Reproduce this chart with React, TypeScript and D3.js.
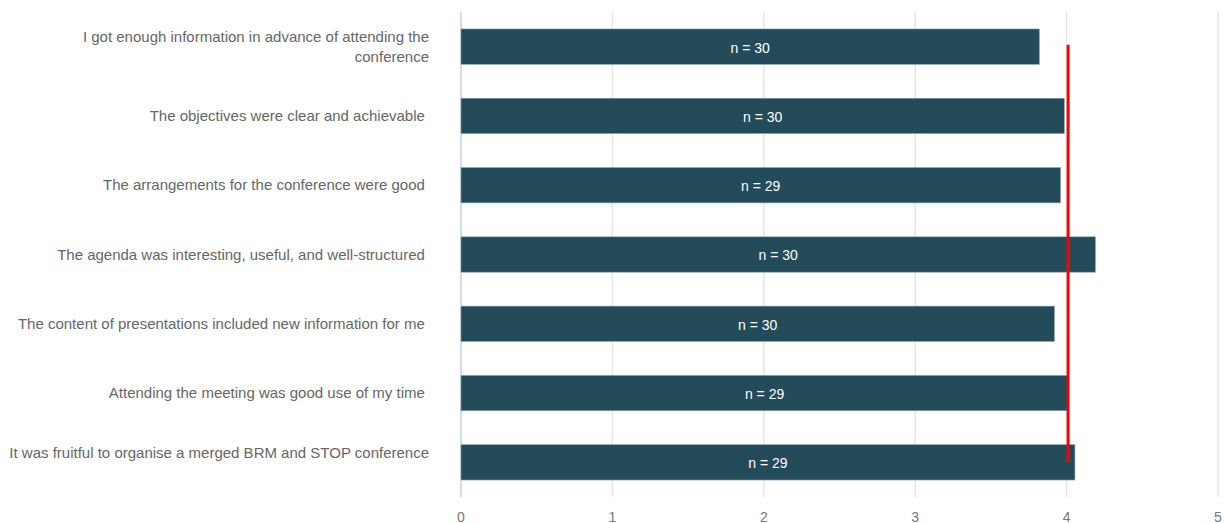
import React from "react";
import * as d3 from "d3";

const categories: string[][] = [
  ["I got enough information in advance of attending the", "conference"],
  ["The objectives were clear and achievable\u00a0"],
  ["The arrangements for the conference were good\u00a0"],
  ["The agenda was interesting, useful, and well-structured\u00a0"],
  ["The content of presentations included new information for me\u00a0"],
  ["Attending the meeting was good use of my time\u00a0"],
  ["It was fruitful to organise a merged BRM and STOP conference", ""],
];
const values: number[] = [3.82, 3.985, 3.96, 4.19, 3.92, 4.01, 4.055];
const counts: number[] = [30, 30, 29, 30, 30, 29, 29];
const average = 4.01;
const xTicks: number[] = [0, 1, 2, 3, 4, 5];

const W = 1224;
const H = 523;

export default function App() {
  const ids = categories.map((_, i) => String(i));
  const x = d3.scaleLinear().domain([0, 5]).range([461, 1218]);
  const y = d3
    .scaleBand<string>()
    .domain(ids)
    .range([12, 497])
    .paddingInner(0.49)
    .paddingOuter(0.245);
  const bw = y.bandwidth();
  const font = "'Liberation Sans', Arial, sans-serif";
  const firstC = (y(ids[0]) as number) + bw / 2;
  const lastC = (y(ids[ids.length - 1]) as number) + bw / 2;

  return (
    <div style={{ position: "absolute", left: 0, top: 0 }}>
      <svg width={W} height={H} style={{ display: "block", background: "#fff" }}>
        {xTicks.map((t) => (
          <line
            key={"g" + t}
            x1={x(t)}
            x2={x(t)}
            y1={12}
            y2={497}
            stroke={t === 0 ? "#d3ddf0" : "#e6e6e6"}
            strokeWidth={t === 0 ? 2 : 1.5}
          />
        ))}
        {xTicks.map((t) => (
          <text
            key={"t" + t}
            x={x(t)}
            y={521.5}
            textAnchor="middle"
            fontFamily={font}
            fontSize={14}
            fill="#777"
          >
            {t}
          </text>
        ))}
        {values.map((v, i) => {
          const y0 = y(ids[i]) as number;
          return (
            <g key={"b" + i}>
              <rect
                x={x(0)}
                y={y0}
                width={x(v) - x(0)}
                height={bw}
                fill="#244b59"
                stroke="#8aa3ad"
                strokeWidth={0.6}
              />
              <text
                x={(x(0) + x(v)) / 2}
                y={y0 + bw / 2 + 1}
                dy="0.35em"
                textAnchor="middle"
                fontFamily={font}
                fontSize={14}
                fill="#fff"
              >
                {`n = ${counts[i]}`}
              </text>
            </g>
          );
        })}
        {categories.map((lines, i) => {
          const c = (y(ids[i]) as number) + bw / 2;
          const lh = 19.5;
          const start = c - ((lines.length - 1) * lh) / 2;
          return (
            <text
              key={"l" + i}
              textAnchor="end"
              fontFamily={font}
              fontSize={15}
              fill="#666"
            >
              {lines.map((ln, j) => (
                <tspan key={j} x={429} y={start + j * lh} dy="0.35em">
                  {ln}
                </tspan>
              ))}
            </text>
          );
        })}
        <line
          x1={x(average)}
          x2={x(average)}
          y1={firstC - 2}
          y2={lastC}
          stroke="#ff0000"
          strokeWidth={3}
        />
      </svg>
    </div>
  );
}
